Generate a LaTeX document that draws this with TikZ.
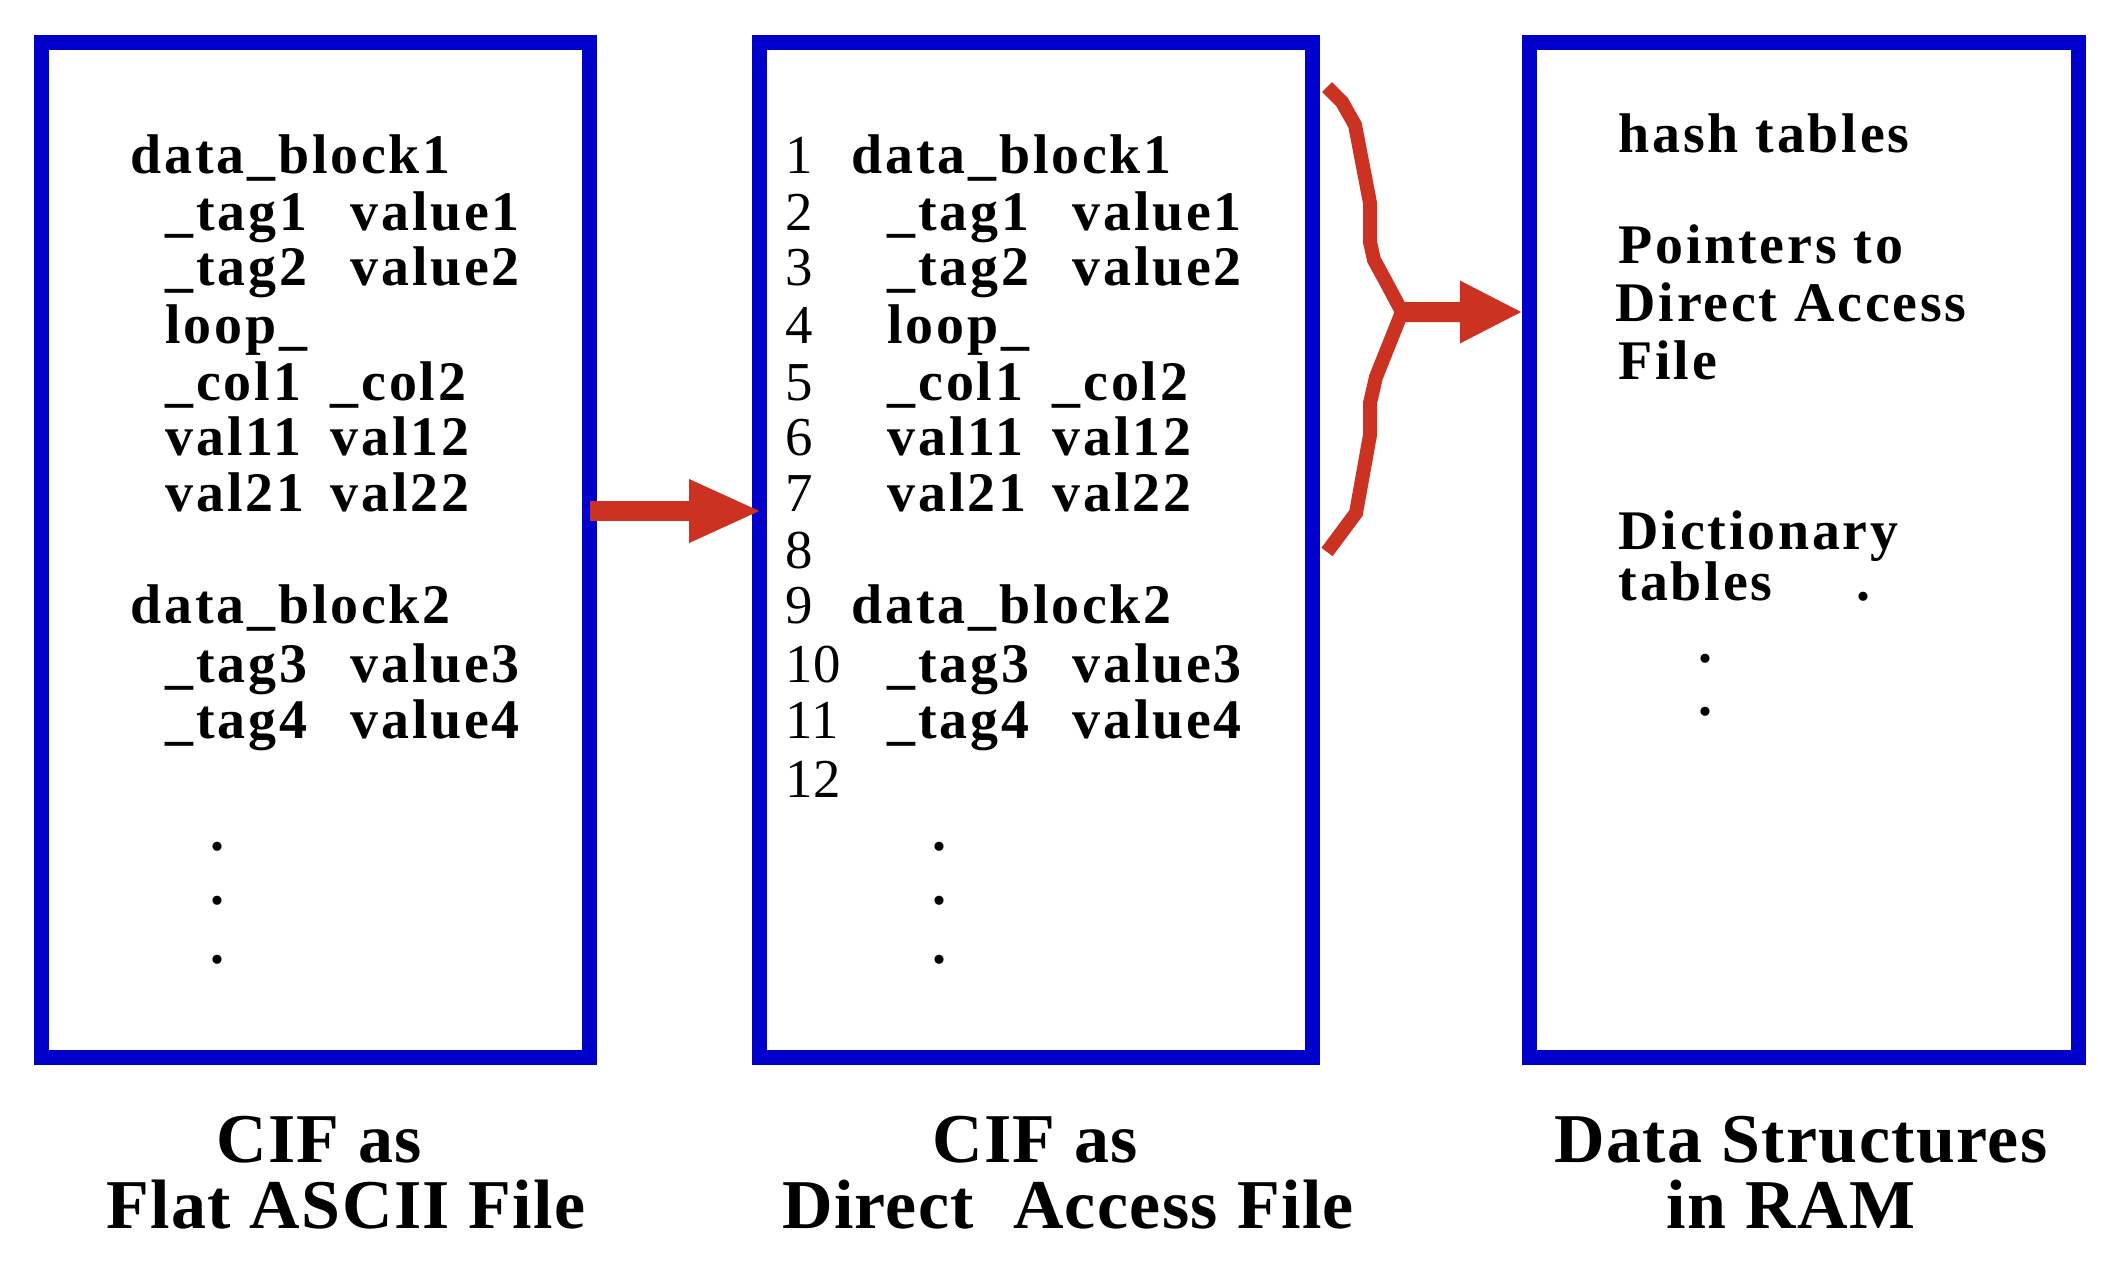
\documentclass[tikz,border=0pt]{standalone}
\usepackage{fontspec}
\setmainfont{Liberation Serif}
\newfontfamily\ciffont{Liberation Serif}[LetterSpace=5]
\newfontfamily\capfont{Liberation Serif}[LetterSpace=2]
\usepackage{xcolor}
\usetikzlibrary{arrows.meta}

\definecolor{cifblue}{RGB}{0,0,204}
\definecolor{cifred}{RGB}{204,50,34}

\tikzset{
  filebox/.style={draw=cifblue, line width=0.15cm, inner sep=0pt, outer sep=0pt,
    minimum height=10.14cm},
  cifline/.style={anchor=base west, inner sep=0pt,
    font=\ciffont\bfseries\fontsize{15.9}{18}\selectfont},
  lineno/.style={anchor=base west, inner sep=0pt, font=\fontsize{15.6}{18}\selectfont},
  vdot/.style={inner sep=0pt, font=\ciffont\bfseries\fontsize{15.9}{18}\selectfont},
  caption/.style={anchor=base, inner sep=0pt,
    font=\capfont\bfseries\fontsize{19.9}{22}\selectfont},
  fatarrow/.style={draw=cifred, line width=0.2cm, -{Triangle[length=#1,width=0.58cm]}},
  bracepath/.style={draw=cifred, line width=0.14cm},
}

\begin{document}
\begin{tikzpicture}[x=1cm,y=1cm]
\useasboundingbox (0,0) rectangle (21.28,12.66);

% the three boxes
\node[filebox, minimum width=5.48cm] (flat) at (3.155,7.16) {};
\node[filebox, minimum width=5.53cm] (direct) at (10.355,7.16) {};
\node[filebox, minimum width=5.485cm] (ram) at (18.04,7.16) {};

% flat ASCII file
\node[cifline] (f1) at (1.30,10.93) {data\_block1};
\node[cifline] (f2) at (1.65,10.35) {\makebox[1.85cm][l]{\_tag1}value1};
\node[cifline] (f3) at (1.65,9.81) {\makebox[1.85cm][l]{\_tag2}value2};
\node[cifline] (f4) at (1.65,9.23) {loop\_};
\node[cifline] (f5) at (1.65,8.66) {\makebox[1.65cm][l]{\_col1}\_col2};
\node[cifline] (f6) at (1.65,8.11) {\makebox[1.65cm][l]{val11}val12};
\node[cifline] (f7) at (1.65,7.55) {\makebox[1.65cm][l]{val21}val22};
\node[cifline] (f9) at (1.30,6.43) {data\_block2};
\node[cifline] (f10) at (1.65,5.84) {\makebox[1.85cm][l]{\_tag3}value3};
\node[cifline] (f11) at (1.65,5.28) {\makebox[1.85cm][l]{\_tag4}value4};
\node[vdot] (fd1) at (2.17,4.19) {.};
\node[vdot] (fd2) at (2.17,3.65) {.};
\node[vdot] (fd3) at (2.17,3.06) {.};

% direct access file, numbered lines
\foreach \n/\y in {1/10.93,2/10.35,3/9.81,4/9.23,5/8.66,6/8.11,
                   7/7.55,8/6.98,9/6.43,10/5.84,11/5.28,12/4.69}
  \node[lineno] (n\n) at (7.85,\y) {\n};
\node[cifline] (d1) at (8.51,10.93) {data\_block1};
\node[cifline] (d2) at (8.87,10.35) {\makebox[1.85cm][l]{\_tag1}value1};
\node[cifline] (d3) at (8.87,9.81) {\makebox[1.85cm][l]{\_tag2}value2};
\node[cifline] (d4) at (8.87,9.23) {loop\_};
\node[cifline] (d5) at (8.87,8.66) {\makebox[1.65cm][l]{\_col1}\_col2};
\node[cifline] (d6) at (8.87,8.11) {\makebox[1.65cm][l]{val11}val12};
\node[cifline] (d7) at (8.87,7.55) {\makebox[1.65cm][l]{val21}val22};
\node[cifline] (d9) at (8.51,6.43) {data\_block2};
\node[cifline] (d10) at (8.87,5.84) {\makebox[1.85cm][l]{\_tag3}value3};
\node[cifline] (d11) at (8.87,5.28) {\makebox[1.85cm][l]{\_tag4}value4};
\node[vdot] (dd1) at (9.39,4.19) {.};
\node[vdot] (dd2) at (9.39,3.65) {.};
\node[vdot] (dd3) at (9.39,3.06) {.};

% data structures in RAM
\node[cifline] (r1) at (16.18,11.14) {hash tables};
\node[cifline] (r2) at (16.18,10.03) {Pointers to};
\node[cifline] (r3) at (16.15,9.45) {Direct Access};
\node[cifline] (r4) at (16.18,8.87) {File};
\node[cifline] (r5) at (16.18,7.17) {Dictionary};
\node[cifline] (r6) at (16.18,6.66) {tables\hspace{0.84cm}.};
\node[vdot] (rd1) at (17.05,6.07) {.};
\node[vdot] (rd2) at (17.05,5.54) {.};

% arrows and brace
\draw[fatarrow=0.73cm] ([yshift=0.39cm]flat.east) -- ([yshift=0.39cm,xshift=0.03cm]direct.west);
\coordinate (bracetip) at (14.02,9.54);
\draw[bracepath] (13.27,11.79) -- (13.42,11.64) -- (13.55,11.41) -- (13.70,10.63)
  -- (13.70,10.24) -- (13.74,10.06) -- (13.85,9.86) -- (bracetip)
  -- (13.76,8.89) -- (13.70,8.63) -- (13.70,8.31) -- (13.56,7.53) -- (13.27,7.14);
\draw[fatarrow=0.63cm] (bracetip) -- ([yshift=2.38cm,xshift=-0.07cm]ram.west);

% captions
\node[caption] (cap1a) at (3.19,1.04) {CIF as};
\node[caption] (cap1b) at (3.46,0.38) {Flat ASCII File};
\node[caption] (cap2a) at (10.35,1.04) {CIF as};
\node[caption] (cap2b) at (10.68,0.38) {Direct\hspace{0.2cm} Access File};
\node[caption] (cap3a) at (18.01,1.04) {Data Structures};
\node[caption] (cap3b) at (17.91,0.38) {in RAM};
\end{tikzpicture}
\end{document}
